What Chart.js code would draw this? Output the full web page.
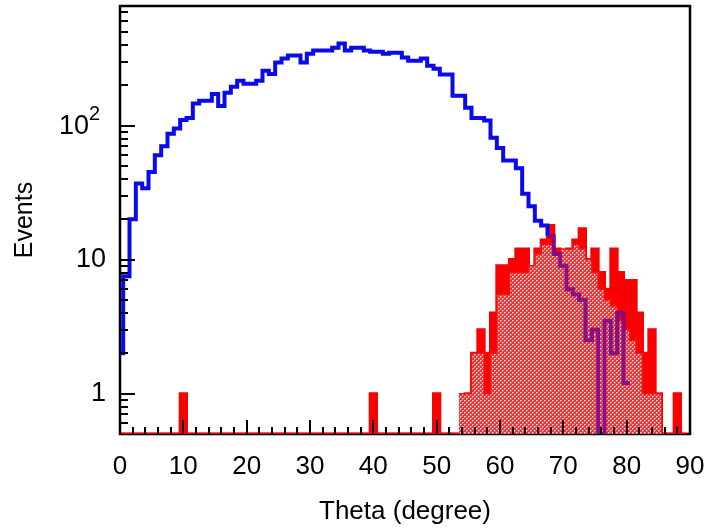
<!DOCTYPE html>
<html><head><meta charset="utf-8">
<script src="https://cdn.jsdelivr.net/npm/chart.js@4"></script>
<style>html,body{margin:0;padding:0;background:#fff;}</style>
</head><body>
<canvas id="c" width="709" height="531"></canvas>
<script>
// ---- data (bin centres in degrees, 1 degree bins) ----
const blueBins = [0,1,2,3,4,5,6,7,8,9,10,11,12,13,14,15,16,17,18,19,20,21,22,23,24,25,26,27,28,29,30,31,32,33,34,35,36,37,38,39,40,41,42,43,44,45,46,47,48,49,50,51,52,53,54,55,56,57,58,59,60,61,62,63,64,65,66,67,68,69,70,71,72,73,74,75,76,77,78,79,80];
const blueEvents = [2,7.5,20,37,34,45,60,70,87,95,110,114,146,153,153,172,140,176,195,216,205,205,216,256,243,295,316,333,333,295,344,363,363,363,380,409,363,381,381,363,355,355,344,350,350,322,305,305,316,280,265,240,240,167,167,136,114,114,109,81,68,55,55,48,31,25,19.5,18,15,11,9,6,5.5,5,2.5,3,0.5,3.5,2,4,1.2];

const redBins = [10,40,50,55,56,57,58,59,60,61,62,63,64,65,66,67,68,69,70,71,72,73,74,75,76,77,78,79,80,81,82,83,84,85,88];
const redEvents = [1,1,1,1,2,3,2,4,9,9,10,12,12,8,12,14,18,12,11,12,14,17,10,12,8,6,12,8,7,7,4,2,3,1,1];

const hatchBins = [54,55,56,57,58,59,60,61,62,63,64,65,66,67,68,69,70,71,72,73,74,75,76,77,78,79,80,81,82,83,84,85];
const hatchEvents = [1,1,2,2,1,2,5.5,5.5,8,8,8,9,11,13,13,11,12,12,13,12,10,8,6,5,4.5,3.5,3,2.5,2,1,1,1];

const xMajorTicks = [0,10,20,30,40,50,60,70,80,90];
const xMinorTicks = [2,4,6,8,12,14,16,18,22,24,26,28,32,34,36,38,42,44,46,48,52,54,56,58,62,64,66,68,72,74,76,78,82,84,86,88];
const yMajorTicks = [1,10,100];
const yMinorTicks = [0.6,0.7,0.8,0.9,2,3,4,5,6,7,8,9,20,30,40,50,60,70,80,90,200,300,400,500,600,700];
const yTickLabels = {1:'1', 10:'10'};      // 100 is drawn as 10 with a superscript 2
const yPowerLabel = {value: 100, base: '10', exp: '2'};

const X_MIN = 0, X_MAX = 90, Y_MIN = 0.5, Y_MAX = 780;

// step-histogram outline built from bin centres / values
function histPoints(bins, vals, fromBin, toBin) {
  const map = new Map(bins.map((b, i) => [b, vals[i]]));
  const pts = [];
  let last = Y_MIN;
  for (let b = fromBin; b <= toBin; b++) {
    last = map.has(b) ? map.get(b) : Y_MIN;
    pts.push({x: b - 0.5, y: last});
  }
  pts.push({x: toBin + 0.5, y: last});
  return pts;
}

function dotPattern() {
  const c = document.createElement('canvas');
  c.width = 4; c.height = 4;
  const g = c.getContext('2d');
  g.fillStyle = 'rgb(236,52,52)'; g.fillRect(0, 0, 4, 4);
  g.fillStyle = 'rgb(255,205,205)';
  g.fillRect(0, 0, 1, 1); g.fillRect(2, 2, 1, 1);
  g.fillStyle = 'rgb(250,150,150)';
  g.fillRect(1, 0, 1, 1); g.fillRect(0, 1, 1, 1); g.fillRect(3, 2, 1, 1); g.fillRect(2, 3, 1, 1);
  return c.getContext('2d').createPattern(c, 'repeat');
}

const FONT = '"Liberation Sans", Arial, sans-serif';

const frameTicks = {
  id: 'frameTicks',
  beforeDatasetsDraw(chart) {
    const {ctx, chartArea: a} = chart;
    ctx.save();
    ctx.strokeStyle = '#000'; ctx.lineWidth = 2.5;
    ctx.strokeRect(a.left, a.top, a.right - a.left, a.bottom - a.top);
    ctx.restore();
  },
  afterDatasetsDraw(chart) {
    const {ctx, chartArea: a, scales: {x, y}} = chart;
    ctx.save();
    ctx.strokeStyle = '#000'; ctx.lineWidth = 2;
    ctx.beginPath();
    xMajorTicks.forEach(v => { const p = Math.round(x.getPixelForValue(v)); ctx.moveTo(p, a.bottom); ctx.lineTo(p, a.bottom - 14); });
    xMinorTicks.forEach(v => { const p = Math.round(x.getPixelForValue(v)); ctx.moveTo(p, a.bottom); ctx.lineTo(p, a.bottom - 7); });
    yMajorTicks.forEach(v => { const p = Math.round(y.getPixelForValue(v)); ctx.moveTo(a.left, p); ctx.lineTo(a.left + 15, p); });
    yMinorTicks.forEach(v => { const p = Math.round(y.getPixelForValue(v)); ctx.moveTo(a.left, p); ctx.lineTo(a.left + 8, p); });
    ctx.stroke();
    // power-of-ten tick label
    const py = y.getPixelForValue(yPowerLabel.value);
    ctx.fillStyle = '#000';
    ctx.textBaseline = 'middle';
    ctx.textAlign = 'right';
    ctx.font = '27px ' + FONT;
    ctx.fillText(yPowerLabel.base, a.left - 31, py + 1);
    ctx.textAlign = 'left';
    ctx.font = '20px ' + FONT;
    ctx.fillText(yPowerLabel.exp, a.left - 31, py - 11);
    ctx.restore();
  }
};

const common = {pointRadius: 0, stepped: 'before', borderJoinStyle: 'miter', borderCapStyle: 'butt', tension: 0};

new Chart(document.getElementById('c'), {
  type: 'line',
  data: {
    datasets: [
      Object.assign({
        label: 'blue',
        data: histPoints(blueBins, blueEvents, 0, 80),
        borderColor: 'rgb(10,10,235)',
        borderWidth: 4,
        fill: false,
        segment: {borderColor: c => c.p0.parsed.x >= 67.5 ? 'rgba(120,10,140,0.9)' : 'rgb(10,10,235)'}
      }, common),
      Object.assign({
        label: 'hatched',
        data: histPoints(hatchBins, hatchEvents, 54, 85),
        borderColor: 'rgb(240,20,20)',
        borderWidth: 1.5,
        backgroundColor: dotPattern(),
        fill: 'start'
      }, common),
      Object.assign({
        label: 'solid',
        data: histPoints(redBins, redEvents, 0, 89),
        borderColor: 'rgb(250,0,0)',
        borderWidth: 3,
        backgroundColor: 'rgb(250,0,0)',
        fill: 'start'
      }, common)
    ]
  },
  options: {
    responsive: false,
    animation: false,
    devicePixelRatio: 1,
    layout: {padding: {top: 6, right: 19, left: 0, bottom: 0}},
    plugins: {legend: {display: false}, tooltip: {enabled: false}},
    scales: {
      x: {
        type: 'linear', min: X_MIN, max: X_MAX,
        grid: {display: false, drawTicks: false},
        border: {display: false},
        afterBuildTicks: s => { s.ticks = xMajorTicks.map(v => ({value: v})); },
        afterFit: s => { s.height = 97; s.paddingLeft = 0; s.paddingRight = 0; },
        ticks: {color: '#000', padding: 17, maxRotation: 0, autoSkip: false, font: {family: FONT, size: 26}},
        title: {display: true, text: 'Theta (degree)', color: '#000', font: {family: FONT, size: 26}, padding: {top: 0, bottom: 4}}
      },
      y: {
        type: 'logarithmic', min: Y_MIN, max: Y_MAX,
        grid: {display: false, drawTicks: false},
        border: {display: false},
        afterBuildTicks: s => { s.ticks = yMajorTicks.map(v => ({value: v})); },
        afterFit: s => { s.width = 120; s.paddingTop = 0; s.paddingBottom = 0; },
        ticks: {color: '#000', padding: 14, autoSkip: false, font: {family: FONT, size: 27}, callback: v => yTickLabels[v] || ''},
        title: {display: true, text: 'Events', color: '#000', font: {family: FONT, size: 25}, padding: {top: 10, bottom: 0}}
      }
    }
  },
  plugins: [frameTicks]
});
</script>
</body></html>
